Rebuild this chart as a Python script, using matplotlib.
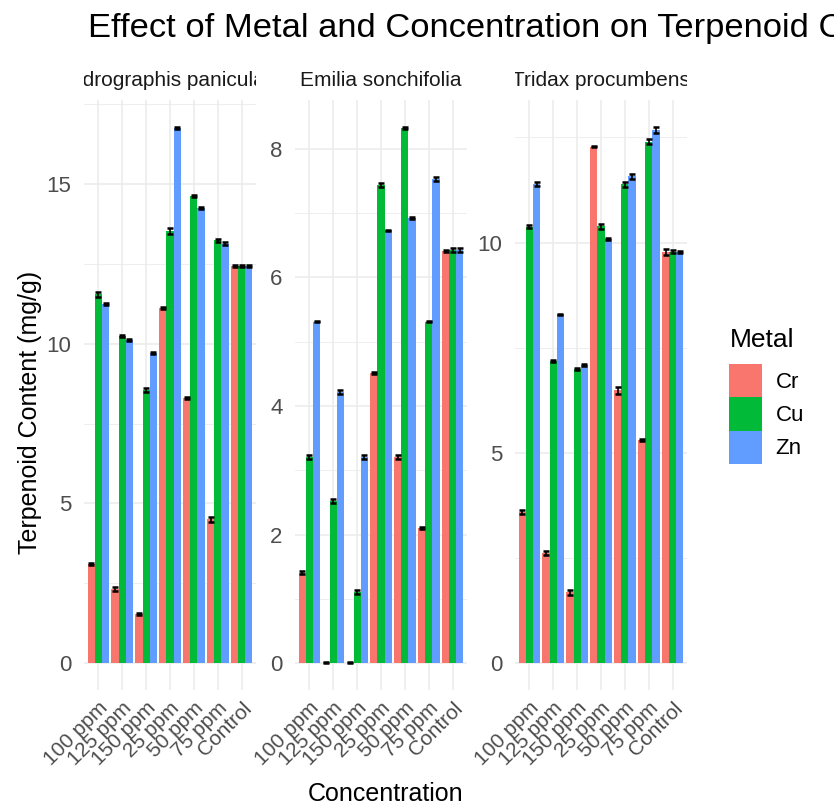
import matplotlib
matplotlib.use("Agg")
import matplotlib.pyplot as plt
import numpy as np
from matplotlib.patches import Patch
from matplotlib.ticker import MultipleLocator

plt.rcParams['font.family'] = ['Liberation Sans', 'DejaVu Sans']

# concentrations (alphabetical, as ggplot orders them)
concentrations = ["100 ppm", "125 ppm", "150 ppm", "25 ppm", "50 ppm", "75 ppm", "Control"]
metals = ["Cr", "Cu", "Zn"]
plants = ["Andrographis paniculata", "Emilia sonchifolia", "Tridax procumbens"]

# mean terpenoid content (mg/g)
andro_cr = [3.10, 2.31, 1.54, 11.11, 8.30, 4.51, 12.43]
andro_cu = [11.55, 10.25, 8.54, 13.54, 14.63, 13.24, 12.43]
andro_zn = [11.25, 10.12, 9.72, 16.76, 14.24, 13.13, 12.43]

emilia_cr = [1.41, 0.01, 0.01, 4.51, 3.20, 2.10, 6.41]
emilia_cu = [3.20, 2.52, 1.11, 7.44, 8.32, 5.31, 6.43]
emilia_zn = [5.31, 4.22, 3.20, 6.73, 6.92, 7.53, 6.43]

tridax_cr = [3.60, 2.61, 1.69, 12.28, 6.49, 5.30, 9.78]
tridax_cu = [10.38, 7.19, 7.00, 10.39, 11.39, 12.39, 9.78]
tridax_zn = [11.39, 8.29, 7.09, 10.09, 11.58, 12.68, 9.78]

# standard deviations (tiny)
andro_cr_sd = [0.03, 0.06, 0.03, 0.03, 0.03, 0.08, 0.03]
andro_cu_sd = [0.08, 0.03, 0.06, 0.09, 0.04, 0.04, 0.03]
andro_zn_sd = [0.03, 0.03, 0.03, 0.03, 0.03, 0.04, 0.03]

emilia_cr_sd = [0.03, 0.01, 0.01, 0.01, 0.03, 0.01, 0.01]
emilia_cu_sd = [0.03, 0.03, 0.03, 0.03, 0.02, 0.01, 0.03]
emilia_zn_sd = [0.01, 0.03, 0.03, 0.01, 0.02, 0.03, 0.03]

tridax_cr_sd = [0.05, 0.05, 0.06, 0.02, 0.08, 0.02, 0.07]
tridax_cu_sd = [0.04, 0.02, 0.02, 0.06, 0.06, 0.06, 0.03]
tridax_zn_sd = [0.04, 0.02, 0.02, 0.02, 0.06, 0.07, 0.02]

panel_values = [
    [andro_cr, andro_cu, andro_zn],
    [emilia_cr, emilia_cu, emilia_zn],
    [tridax_cr, tridax_cu, tridax_zn],
]
panel_errors = [
    [andro_cr_sd, andro_cu_sd, andro_zn_sd],
    [emilia_cr_sd, emilia_cu_sd, emilia_zn_sd],
    [tridax_cr_sd, tridax_cu_sd, tridax_zn_sd],
]
tick_steps = [5, 2, 5]

colors = ["#F8766D", "#00BA38", "#619CFF"]
grid_col = "#EBEBEB"

W, H = 834, 809
fig = plt.figure(figsize=(W / 100, H / 100), dpi=100)

panel_lefts = [84, 295, 515]
panel_w = 172
panel_top, panel_bottom = 100, 690

x = np.arange(len(concentrations))
bar_w = 0.3

for p in range(3):
    left = panel_lefts[p] / W
    ax = fig.add_axes([left, 1 - panel_bottom / H, panel_w / W, (panel_bottom - panel_top) / H])
    top_val = 0
    for m in range(3):
        vals = np.array(panel_values[p][m])
        errs = np.array(panel_errors[p][m])
        pos = x + (m - 1) * bar_w
        ax.bar(pos, vals, width=bar_w, color=colors[m], zorder=2)
        ax.errorbar(pos, vals, yerr=errs, fmt='none', ecolor='black',
                    elinewidth=1.2, capsize=2.2, capthick=1.8, zorder=3)
        top_val = max(top_val, (vals + errs).max())
    ax.set_ylim(-0.05 * top_val, 1.05 * top_val)
    ax.set_xlim(-0.6, len(concentrations) - 0.4)

    step = tick_steps[p]
    ax.yaxis.set_major_locator(MultipleLocator(step))
    ax.yaxis.set_minor_locator(MultipleLocator(step / 2))
    ax.set_xticks(x)
    ax.set_xticklabels(concentrations, rotation=45, ha='right', va='top',
                       rotation_mode='anchor', fontsize=15, color='#4D4D4D')
    ax.tick_params(axis='both', which='both', length=0)
    ax.tick_params(axis='y', labelsize=16, labelcolor='#4D4D4D', pad=9)
    ax.tick_params(axis='x', pad=6)
    ax.grid(True, which='major', color=grid_col, linewidth=1.1, zorder=0)
    ax.grid(True, which='minor', axis='y', color=grid_col, linewidth=0.6, zorder=0)
    ax.set_axisbelow(True)
    for s in ax.spines.values():
        s.set_visible(False)

    # facet strip, text clipped to the panel width
    sax = fig.add_axes([left, 1 - 98 / H, panel_w / W, 34 / H])
    sax.set_xlim(0, 1)
    sax.set_ylim(0, 1)
    sax.axis('off')
    sax.text(0.5, 0.5, plants[p], ha='center', va='center', fontsize=15,
             color='#1A1A1A', clip_on=True)

fig.text(88 / W, 1 - 37 / H, "Effect of Metal and Concentration on Terpenoid Content",
         fontsize=24.8, ha='left', va='baseline')
fig.text(386 / W, 1 - 794 / H, "Concentration", fontsize=18, ha='center', va='center')
fig.text(30 / W, 1 - 412 / H, "Terpenoid Content (mg/g)", fontsize=18, rotation=90,
         ha='center', va='center')

# legend: title as separate text, keys stacked without gaps
fig.text(730 / W, 1 - 347 / H, "Metal", fontsize=19, ha='left', va='baseline')
handles = [Patch(facecolor=c, edgecolor='none') for c in colors]
leg = fig.legend(handles, metals, loc='upper left',
                 bbox_to_anchor=(729 / W, 1 - 364 / H), frameon=False,
                 fontsize=16, handlelength=1.49, handleheight=1.93,
                 labelspacing=0.0, handletextpad=0.6, borderpad=0, borderaxespad=0)

fig.savefig("out.png", dpi=100)
